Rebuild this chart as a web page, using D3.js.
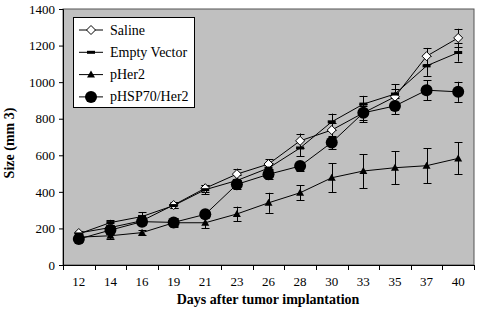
<!DOCTYPE html>
<html><head><meta charset="utf-8">
<script src="https://cdn.jsdelivr.net/npm/d3@7"></script>
<style>body{margin:0;background:#fff}svg{display:block}</style>
</head><body><svg id="c" width="478" height="310"></svg>
<script>
const days = ["12","14","16","19","21","23","26","28","30","33","35","37","40"];
const yTicks = [0,200,400,600,800,1000,1200,1400];
const seriesNames = ["Saline","Empty Vector","pHer2","pHSP70/Her2"];
const saline = [175,205,242,328,420,497,552,679,738,832,920,1142,1242];
const salineErr = [10,15,20,15,20,30,25,40,40,40,45,45,50];
const emptyVector = [170,232,265,325,412,462,530,640,783,880,935,1089,1162];
const emptyVectorErr = [10,15,25,15,25,30,30,45,45,45,55,55,50];
const pHer2 = [152,160,177,231,231,279,340,395,477,514,532,543,583];
const pHer2Err = [15,20,15,25,30,40,55,40,80,93,90,95,88];
const pHSP70 = [142,191,237,233,277,441,496,541,670,832,870,956,947];
const pHSP70Err = [15,20,20,20,20,25,25,25,37,50,45,55,55];

const FONT = '"Liberation Serif","Times New Roman",serif';
const svg = d3.select("#c");
const L=63,R=474,T=9,B=265;
const x = d3.scaleBand().domain(days).range([L,R]);
const y = d3.scaleLinear().domain([0,1400]).range([B,T]);

svg.append("rect").attr("x",L).attr("y",T).attr("width",R-L).attr("height",B-T).attr("fill","#c0c0c0").attr("stroke","#555").attr("stroke-width",1);

const yAx = svg.append("g").attr("transform",`translate(${L},0)`).call(d3.axisLeft(y).tickValues(yTicks).tickSize(4).tickPadding(4).tickFormat(d3.format("d")));
yAx.select(".domain").attr("stroke","#000");
yAx.selectAll("text").attr("font-size",13).style("font-family",FONT).attr("fill","#000");
const xAx = svg.append("g").attr("transform",`translate(0,${B})`).call(d3.axisBottom(x).tickSize(0).tickPadding(12));
xAx.select(".domain").attr("stroke","#000").attr("d",`M${L},0.5H${R}`);
xAx.selectAll("text").attr("font-size",13).style("font-family",FONT).attr("fill","#000");
const bounds = days.map(d=>x(d)).concat([R]);
svg.append("g").selectAll("line").data(bounds).join("line")
  .attr("x1",d=>Math.round(d)+0.5).attr("x2",d=>Math.round(d)+0.5).attr("y1",B).attr("y2",B+5).attr("stroke","#000");

svg.append("text").attr("x",268).attr("y",304).attr("text-anchor","middle").attr("font-size",14).attr("font-weight","bold").style("font-family",FONT).text("Days after tumor implantation");
svg.append("text").attr("transform","translate(14,143) rotate(-90)").attr("text-anchor","middle").attr("font-size",14).attr("font-weight","bold").style("font-family",FONT).text("Size (mm 3)");

const cx = d => x(d)+x.bandwidth()/2;
const series = [
  {name:seriesNames[0], v:saline, e:salineErr, m:"diamond"},
  {name:seriesNames[1], v:emptyVector, e:emptyVectorErr, m:"dash"},
  {name:seriesNames[2], v:pHer2, e:pHer2Err, m:"triangle"},
  {name:seriesNames[3], v:pHSP70, e:pHSP70Err, m:"circle"}
];
function marker(g, type, px, py){
  if(type==="diamond") g.append("path").attr("d",`M${px},${py-4.5}L${px+4.5},${py}L${px},${py+4.5}L${px-4.5},${py}Z`).attr("fill","#fff").attr("stroke","#000").attr("stroke-width",1);
  else if(type==="dash") g.append("rect").attr("x",px-4).attr("y",py-1.5).attr("width",8).attr("height",3).attr("fill","#000");
  else if(type==="triangle") g.append("path").attr("d",`M${px},${py-4}L${px+4},${py+3}L${px-4},${py+3}Z`).attr("fill","#000");
  else g.append("circle").attr("cx",px).attr("cy",py).attr("r",6).attr("fill","#000");
}
const line = d3.line().x((d,i)=>cx(days[i])).y(d=>y(d));
series.forEach(s=>{
  const g = svg.append("g");
  s.v.forEach((v,i)=>{
    const px=Math.round(cx(days[i]))+0.5, e=s.e[i];
    g.append("line").attr("x1",px).attr("x2",px).attr("y1",y(v+e)).attr("y2",y(v-e)).attr("stroke","#000");
    [v+e,v-e].forEach(t=>g.append("line").attr("x1",px-4).attr("x2",px+4).attr("y1",Math.round(y(t))+0.5).attr("y2",Math.round(y(t))+0.5).attr("stroke","#000"));
  });
  g.append("path").datum(s.v).attr("d",line).attr("fill","none").attr("stroke","#000").attr("stroke-width",1);
});
series.forEach(s=>{
  const g = svg.append("g");
  s.v.forEach((v,i)=>marker(g,s.m,cx(days[i]),y(v)));
});

const lg = svg.append("g");
lg.append("rect").attr("x",73.5).attr("y",17.5).attr("width",121).attr("height",90).attr("fill","#fff").attr("stroke","#000");
series.forEach((s,i)=>{
  const yy = 30+i*22.3;
  lg.append("line").attr("x1",79).attr("x2",103).attr("y1",yy).attr("y2",yy).attr("stroke","#000");
  marker(lg,s.m,91,yy);
  lg.append("text").attr("x",110).attr("y",yy+4.5).attr("font-size",14).style("font-family",FONT).text(s.name);
});
</script></body></html>
